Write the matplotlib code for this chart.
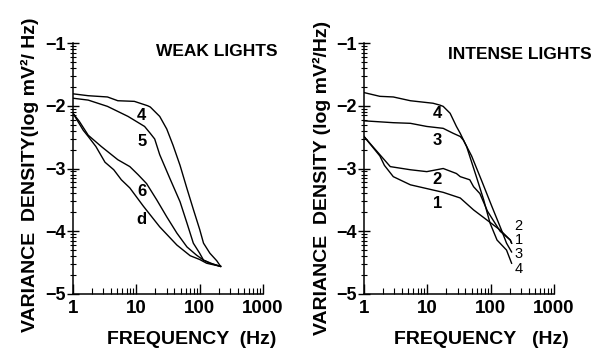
import numpy as np
import matplotlib
matplotlib.use("Agg")
import matplotlib.pyplot as plt
import matplotlib.ticker as ticker

plt.rcParams['font.family'] = ['Liberation Sans', 'DejaVu Sans']
plt.rcParams['axes.unicode_minus'] = True

# ---- weak lights (frequency in Hz, log variance density) ----
weak_4_f = [1, 1.74, 3.5, 5.1, 9.3, 15.1, 16.6, 23.4, 30.2, 38, 49, 63, 79.4, 100, 115, 145, 186, 214]
weak_4_v = [-1.81, -1.84, -1.86, -1.92, -1.93, -2.0, -2.02, -2.17, -2.37, -2.63, -2.95, -3.32, -3.65, -3.97,
            -4.19, -4.35, -4.47, -4.56]
weak_5_f = [1, 1.74, 3.5, 7.4, 13.5, 16.6, 19.5, 23.4, 33.9, 49, 63, 79.4, 100, 115, 145, 214]
weak_5_v = [-1.88, -1.91, -2.01, -2.17, -2.33, -2.44, -2.53, -2.78, -3.16, -3.53, -3.87, -4.19, -4.35,
            -4.46, -4.51, -4.56]
weak_6_f = [1, 1.26, 1.74, 2.8, 5.1, 7.9, 10.7, 14.5, 21, 30.2, 43.7, 63, 89, 115, 160, 214]
weak_6_v = [-2.12, -2.25, -2.47, -2.65, -2.86, -2.97, -3.1, -3.24, -3.5, -3.77, -4.03, -4.25, -4.38,
            -4.46, -4.52, -4.56]
weak_d_f = [1, 1.45, 1.74, 2.3, 3.2, 4.4, 5.8, 7.9, 12.9, 23.4, 43.7, 70.8, 100, 129, 214]
weak_d_v = [-2.12, -2.39, -2.49, -2.65, -2.9, -3.02, -3.18, -3.31, -3.6, -3.93, -4.22, -4.39, -4.45,
            -4.51, -4.56]

# ---- intense lights ----
int_4_f = [1, 1.78, 2.9, 5.4, 12.3, 15.8, 17.8, 22.9, 28.8, 33.1, 41.7, 60.3, 77.6, 97.7, 126, 178, 214]
int_4_v = [-1.79, -1.85, -1.86, -1.92, -1.96, -1.99, -2.01, -2.12, -2.33, -2.44, -2.65, -3.15, -3.5,
           -3.87, -4.14, -4.3, -4.51]
int_3_f = [1, 2.9, 5.4, 9.8, 17.8, 20.4, 25.7, 33.1, 37.2, 50, 72.4, 105, 148, 178, 214]
int_3_v = [-2.24, -2.27, -2.28, -2.33, -2.36, -2.39, -2.44, -2.49, -2.55, -2.8, -3.2, -3.61, -3.98,
           -4.19, -4.33]
int_2_f = [1, 1.78, 2.6, 5.4, 9.8, 17.8, 28.8, 33.1, 46.8, 53.7, 67.6, 89, 141, 204, 214]
int_2_v = [-2.49, -2.78, -2.97, -3.02, -3.05, -3.0, -3.08, -3.13, -3.18, -3.29, -3.4, -3.68, -4.0,
           -4.14, -4.19]
int_1_f = [1, 1.78, 2.1, 2.9, 5.4, 17.8, 33.1, 53.7, 87, 141, 204, 214]
int_1_v = [-2.49, -2.8, -2.95, -3.13, -3.26, -3.38, -3.47, -3.66, -3.82, -3.98, -4.14, -4.19]

weak_curves = [(weak_4_f, weak_4_v), (weak_5_f, weak_5_v), (weak_6_f, weak_6_v), (weak_d_f, weak_d_v)]
weak_labels = ['4', '5', '6', 'd']
weak_label_y = [-2.15, -2.57, -3.37, -3.82]
intense_curves = [(int_4_f, int_4_v), (int_3_f, int_3_v), (int_2_f, int_2_v), (int_1_f, int_1_v)]
intense_labels = ['4', '3', '2', '1']
intense_label_y = [-2.12, -2.55, -3.18, -3.55]
end_labels = ['2', '1', '3', '4']
end_label_y = [-3.92, -4.14, -4.36, -4.6]

W, H = 597, 352


def style_axes(ax):
    ax.set_xscale('log')
    ax.set_xlim(1, 1000)
    ax.set_ylim(-5, -1)
    for side in ('top', 'right'):
        ax.spines[side].set_visible(False)
    for side in ('left', 'bottom'):
        ax.spines[side].set_linewidth(1.1)
    ax.xaxis.set_major_locator(ticker.FixedLocator([1, 10, 100, 1000]))
    ax.xaxis.set_major_formatter(ticker.FixedFormatter(['1', '10', '100', '1000']))
    ax.xaxis.set_minor_locator(ticker.LogLocator(base=10, subs=np.arange(2, 10)))
    ax.xaxis.set_minor_formatter(ticker.NullFormatter())
    ax.yaxis.set_major_locator(ticker.FixedLocator([-5, -4, -3, -2, -1]))
    ax.yaxis.set_major_formatter(ticker.FixedFormatter(['\u22125', '\u22124', '\u22123', '\u22122', '\u22121']))
    # log-like minor ticks on the log-value axis
    minors = [n + np.log10(k) for n in range(-5, -1) for k in range(2, 10)]
    ax.yaxis.set_minor_locator(ticker.FixedLocator(minors))
    ax.tick_params(axis='x', which='major', direction='in', length=7, width=1, pad=4,
                   labelsize=13.5)
    ax.tick_params(axis='x', which='minor', direction='in', length=4, width=0.8)
    ax.tick_params(axis='y', which='major', direction='inout', length=8, width=1, pad=1,
                   labelsize=13)
    ax.tick_params(axis='y', which='minor', direction='inout', length=4, width=0.8)
    for lab in ax.get_xticklabels() + ax.get_yticklabels():
        lab.set_fontweight('bold')
    ax.patch.set_visible(False)


fig = plt.figure(figsize=(W / 100, H / 100), dpi=100)
ax1 = fig.add_axes([73 / W, 1 - 294 / H, 190 / W, 251 / H])
ax2 = fig.add_axes([364 / W, 1 - 294 / H, 190 / W, 251 / H])

for f, v in weak_curves:
    ax1.plot(f, v, color='black', lw=1.0)
for lab, y in zip(weak_labels, weak_label_y):
    ax1.text(12.2, y, lab, fontsize=12, fontweight='bold', ha='center', va='center')
ax1.text(188, -1.14, 'WEAK LIGHTS', fontsize=12.5, fontweight='bold', ha='center', va='center',
         clip_on=False)

for f, v in intense_curves:
    ax2.plot(f, v, color='black', lw=1.0)
for lab, y in zip(intense_labels, intense_label_y):
    ax2.text(14.4, y, lab, fontsize=12, fontweight='bold', ha='center', va='center')
for lab, y in zip(end_labels, end_label_y):
    ax2.text(276, y, lab, fontsize=10.5, ha='center', va='center')
ax2.text(290, -1.19, 'INTENSE LIGHTS', fontsize=12.5, fontweight='bold', ha='center', va='center',
         clip_on=False)

for ax in (ax1, ax2):
    style_axes(ax)

fig.text(30 / W, 1 - 175 / H, 'VARIANCE  DENSITY(log mV\u00b2/ Hz)', rotation=90, fontsize=14,
         fontweight='bold', ha='center', va='center')
fig.text(322 / W, 1 - 178 / H, 'VARIANCE  DENSITY (log mV\u00b2/Hz)', rotation=90, fontsize=14,
         fontweight='bold', ha='center', va='center')
fig.text(192 / W, 1 - 340 / H, 'FREQUENCY  (Hz)', fontsize=14, fontweight='bold', ha='center', va='center')
fig.text(481 / W, 1 - 340 / H, 'FREQUENCY   (Hz)', fontsize=14, fontweight='bold', ha='center', va='center')

fig.savefig('out.png', dpi=100)
plt.close(fig)
